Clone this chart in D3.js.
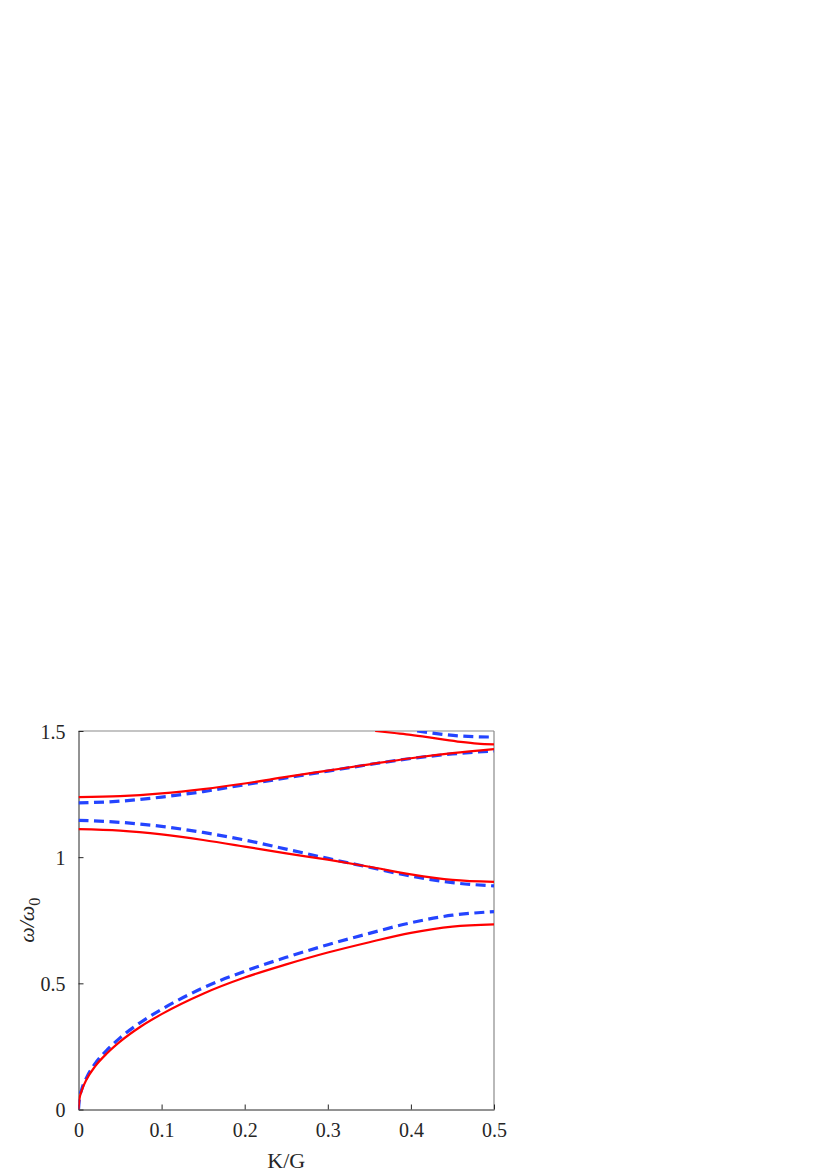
<!DOCTYPE html>
<html><head><meta charset="utf-8">
<script src="https://cdn.jsdelivr.net/npm/d3@7"></script>
<style>body{margin:0;background:#fff}svg{display:block}
text{font-family:"Liberation Serif","Times New Roman",serif}</style>
</head><body>
<script>
// Data
const xTicks = [0, 0.1, 0.2, 0.3, 0.4, 0.5];
const xTickLabels = ["0", "0.1", "0.2", "0.3", "0.4", "0.5"];
const yTicks = [0, 0.5, 1, 1.5];
const yTickLabels = ["0", "0.5", "1", "1.5"];

const kLow = [0, 0.001, 0.004, 0.01, 0.02, 0.035, 0.05, 0.075, 0.1, 0.15, 0.2, 0.25, 0.3, 0.35, 0.4, 0.45, 0.5];
const redLow  = [0, 0.038, 0.076, 0.121, 0.171, 0.225, 0.269, 0.329, 0.378, 0.459, 0.523, 0.575, 0.622, 0.663, 0.700, 0.725, 0.734];
const blueLow = [0, 0.040, 0.081, 0.128, 0.182, 0.238, 0.284, 0.346, 0.397, 0.482, 0.548, 0.603, 0.653, 0.698, 0.740, 0.770, 0.784];

const kBand = [0, 0.05, 0.1, 0.15, 0.2, 0.25, 0.3, 0.35, 0.4, 0.45, 0.5];
const redMid  = [1.111, 1.105, 1.090, 1.068, 1.042, 1.015, 0.990, 0.962, 0.932, 0.910, 0.902];
const blueMid = [1.146, 1.138, 1.122, 1.098, 1.068, 1.032, 0.995, 0.960, 0.925, 0.899, 0.886];
const redUp   = [1.238, 1.242, 1.253, 1.270, 1.292, 1.318, 1.343, 1.368, 1.392, 1.412, 1.428];
const blueUp  = [1.215, 1.222, 1.238, 1.260, 1.287, 1.314, 1.341, 1.367, 1.391, 1.409, 1.421];

const kTopRed  = [0.357, 0.38, 0.4, 0.42, 0.44, 0.46, 0.48, 0.5];
const redTop   = [1.5, 1.492, 1.485, 1.476, 1.466, 1.457, 1.450, 1.447];
const kTopBlue = [0.4075, 0.42, 0.44, 0.46, 0.48, 0.5];
const blueTop  = [1.5, 1.494, 1.486, 1.480, 1.477, 1.476];

const W = 830, H = 1174;
const m = {left: 78.5, right: 494, top: 731, bottom: 1109.5};
const font = "'Liberation Serif', 'Times New Roman', serif";

const svg = d3.select("body").append("svg").attr("width", W).attr("height", H)
  .attr("font-family", font);
const x = d3.scaleLinear().domain([0, 0.5]).range([m.left, m.right]);
const y = d3.scaleLinear().domain([0, 1.5]).range([m.bottom, m.top]);

svg.append("defs").append("clipPath").attr("id", "clip")
  .append("rect").attr("x", m.left).attr("y", m.top)
  .attr("width", m.right - m.left).attr("height", m.bottom - m.top);

// frame top/right
svg.append("line").attr("x1", m.left).attr("x2", m.right).attr("y1", m.top).attr("y2", m.top)
  .attr("stroke", "#8a8a8a").attr("stroke-width", 1.2);
svg.append("line").attr("x1", m.right).attr("x2", m.right).attr("y1", m.top).attr("y2", m.bottom)
  .attr("stroke", "#8a8a8a").attr("stroke-width", 1.2);

// axes
const xAxis = d3.axisBottom(x).tickValues(xTicks).tickFormat((d, i) => xTickLabels[i])
  .tickSizeInner(-5).tickSizeOuter(0).tickPadding(13);
const yAxis = d3.axisLeft(y).tickValues(yTicks).tickFormat((d, i) => yTickLabels[i])
  .tickSizeInner(-5).tickSizeOuter(0).tickPadding(13);

const gx = svg.append("g").attr("transform", `translate(0,${m.bottom})`).call(xAxis);
const gy = svg.append("g").attr("transform", `translate(${m.left},0)`).call(yAxis);
[gx, gy].forEach(g => {
  g.attr("font-family", font).attr("font-size", 20);
  g.select(".domain").attr("stroke", "#262626").attr("stroke-width", 1);
  g.selectAll(".tick line").attr("stroke", "#262626").attr("stroke-width", 1);
  g.selectAll(".tick text").attr("fill", "#262626")
    .attr("font-family", font).attr("font-size", 20);
});
gx.selectAll(".tick text").attr("dy", "0.71em");
gy.selectAll(".tick text").attr("dy", "0.35em");

// curves
const lineGen = d3.line().x(d => x(d[0])).y(d => y(d[1])).curve(d3.curveMonotoneX);
const plot = svg.append("g").attr("clip-path", "url(#clip)");
function draw(ks, vs, color, dashed) {
  const p = plot.append("path").datum(ks.map((k, i) => [k, vs[i]]))
    .attr("d", lineGen).attr("fill", "none").attr("stroke", color)
    .attr("stroke-linejoin", "round");
  if (dashed) p.attr("stroke-width", 3.2).attr("stroke-dasharray", "10,5.5");
  else p.attr("stroke-width", 2.2);
}
const blue = "#2444ff", red = "#ff0000";
draw(kLow, blueLow, blue, true);
draw(kBand, blueMid, blue, true);
draw(kBand, blueUp, blue, true);
draw(kTopBlue, blueTop, blue, true);
draw(kLow, redLow, red, false);
draw(kBand, redMid, red, false);
draw(kBand, redUp, red, false);
draw(kTopRed, redTop, red, false);

// labels
svg.append("text").attr("x", (m.left + m.right) / 2).attr("y", 1168)
  .attr("text-anchor", "middle").attr("fill", "#262626")
  .attr("font-family", font).attr("font-size", 22).text("K/G");

const yl = svg.append("text").attr("transform", `translate(34,${(m.top + m.bottom) / 2}) rotate(-90)`)
  .attr("text-anchor", "middle").attr("fill", "#262626")
  .attr("font-family", font).attr("font-size", 22);
yl.append("tspan").attr("font-style", "italic").text("ω/ω");
yl.append("tspan").attr("dy", 6).attr("font-size", 16).text("0");
</script>
</body></html>
